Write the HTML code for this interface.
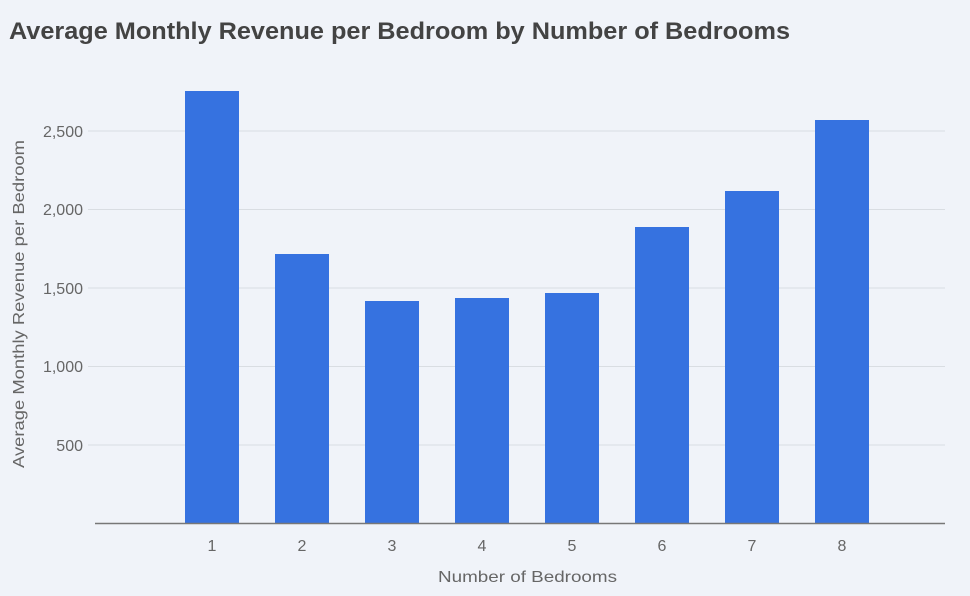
<!DOCTYPE html>
<html><head><style>
html,body{margin:0;padding:0;background:#f0f3f9;}
svg{display:block;font-family:"Liberation Sans",sans-serif;}
</style></head><body>
<svg width="970" height="596" viewBox="0 0 970 596">
<rect width="970" height="596" fill="#f0f3f9"/>
<text x="9" y="39" font-size="24" font-weight="bold" fill="#434343" textLength="781" lengthAdjust="spacingAndGlyphs">Average Monthly Revenue per Bedroom by Number of Bedrooms</text>
<g stroke="#d9dde2" stroke-width="1">
<line x1="88" x2="945" y1="131" y2="131"/>
<line x1="88" x2="945" y1="209.5" y2="209.5"/>
<line x1="88" x2="945" y1="288" y2="288"/>
<line x1="88" x2="945" y1="366.5" y2="366.5"/>
<line x1="88" x2="945" y1="445" y2="445"/>
</g>
<g font-size="16" fill="#666" text-anchor="end">
<text x="83" y="137">2,500</text>
<text x="83" y="215">2,000</text>
<text x="83" y="294">1,500</text>
<text x="83" y="372">1,000</text>
<text x="83" y="451">500</text>
</g>
<g fill="#3672e0">
<rect x="185" y="91" width="54" height="432"/>
<rect x="275" y="254" width="54" height="269"/>
<rect x="365" y="301" width="54" height="222"/>
<rect x="455" y="298" width="54" height="225"/>
<rect x="545" y="293" width="54" height="230"/>
<rect x="635" y="227" width="54" height="296"/>
<rect x="725" y="191" width="54" height="332"/>
<rect x="815" y="120" width="54" height="403"/>
</g>
<line x1="95" x2="945" y1="523.5" y2="523.5" stroke="#777" stroke-width="1.5"/>
<g font-size="16" fill="#666" text-anchor="middle">
<text x="212" y="551">1</text>
<text x="302" y="551">2</text>
<text x="392" y="551">3</text>
<text x="482" y="551">4</text>
<text x="572" y="551">5</text>
<text x="662" y="551">6</text>
<text x="752" y="551">7</text>
<text x="842" y="551">8</text>
</g>
<text x="438" y="582" font-size="16" fill="#666" textLength="179" lengthAdjust="spacingAndGlyphs">Number of Bedrooms</text>
<text transform="translate(24,468) rotate(-90)" font-size="15.5" fill="#666" textLength="328" lengthAdjust="spacingAndGlyphs">Average Monthly Revenue per Bedroom</text>
</svg>
</body></html>
